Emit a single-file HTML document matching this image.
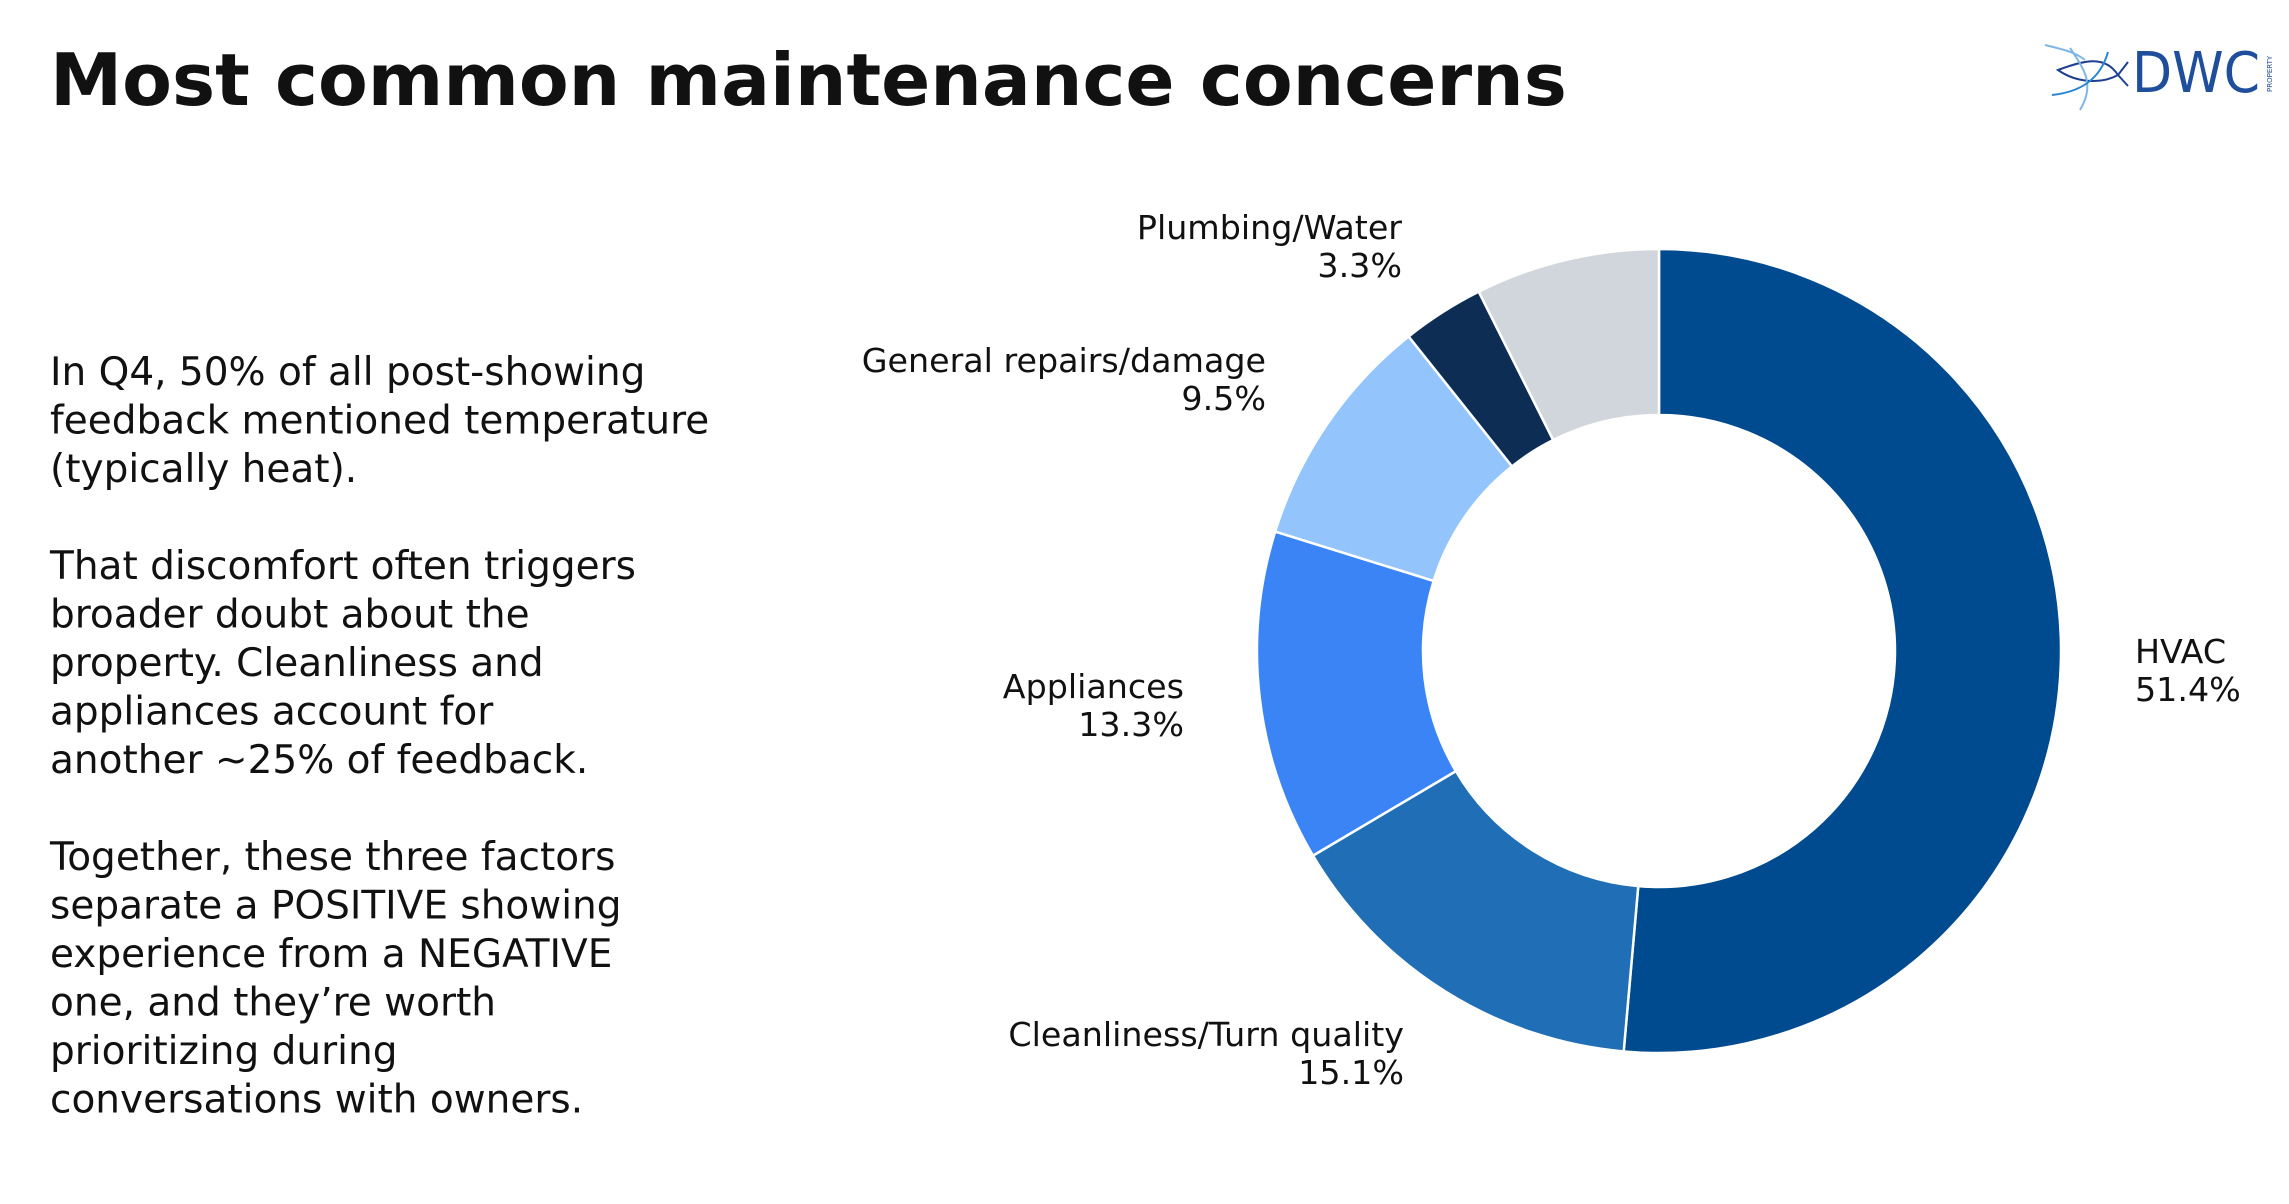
<!DOCTYPE html>
<html><head><meta charset="utf-8"><style>
html,body{margin:0;padding:0;background:#fff;}
svg{display:block;}
text{font-family:"DejaVu Sans","Liberation Sans",sans-serif;fill:#111;}
</style></head><body>
<svg id="s" width="2289" height="1204" viewBox="0 0 2289 1204" xmlns="http://www.w3.org/2000/svg">
<text x="50" y="105" font-size="72.5" font-weight="bold">Most common maintenance concerns</text>
<g font-size="39">
<text x="50" y="385">In Q4, 50% of all post-showing</text>
<text x="50" y="433.5">feedback mentioned temperature</text>
<text x="50" y="482">(typically heat).</text>
<text x="50" y="579">That discomfort often triggers</text>
<text x="50" y="627.5">broader doubt about the</text>
<text x="50" y="676">property. Cleanliness and</text>
<text x="50" y="724.5">appliances account for</text>
<text x="50" y="773">another ~25% of feedback.</text>
<text x="50" y="870">Together, these three factors</text>
<text x="50" y="918.5">separate a POSITIVE showing</text>
<text x="50" y="967">experience from a NEGATIVE</text>
<text x="50" y="1015.5">one, and they’re worth</text>
<text x="50" y="1064">prioritizing during</text>
<text x="50" y="1112.5">conversations with owners.</text>
</g>
<g id="donut"></g>
<g font-size="33.3" text-anchor="end">
<text x="1402" y="239">Plumbing/Water</text><text x="1402" y="277">3.3%</text>
<text x="1266" y="372">General repairs/damage</text><text x="1266" y="410">9.5%</text>
<text x="1184" y="698">Appliances</text><text x="1184" y="736">13.3%</text>
<text x="1404" y="1046">Cleanliness/Turn quality</text><text x="1404" y="1084">15.1%</text>
</g>
<g font-size="33.3"><text x="2135" y="663">HVAC</text><text x="2135" y="701">51.4%</text></g>
<g stroke-width="2" fill="none">
<path d="M2058 70 C2085 60,2105 55,2118 75 C2100 85,2075 82,2058 70Z" stroke="#1f3f8f"/>
<path d="M2070 48 C2085 70,2095 85,2080 110" stroke="#7fb6e6"/>
<path d="M2052 95 C2080 92,2100 80,2108 52" stroke="#2a86d0"/>
<path d="M2118 75 L2128 62 M2118 75 L2128 86" stroke="#1f3f8f"/>
<path d="M2045 45 C2065 50,2075 52,2085 60" stroke="#7fb6e6"/>
</g>
<text x="2132" y="92" font-size="56" style="fill:#1f4e9c" font-family="Liberation Sans" textLength="128" lengthAdjust="spacingAndGlyphs">DWC</text>
<text x="0" y="0" font-size="7" style="fill:#1f4e9c" transform="translate(2272,92) rotate(-90)">PROPERTY</text>
</svg>
<script>
var cx=1659,cy=651,R=402,r=236;
var d=[[51.4,"#004a8f"],[15.1,"#1f6eb6"],[13.3,"#3b84f6"],[9.5,"#93c5fc"],[3.3,"#0d2d54"],[7.4,"#d1d5dc"]];
var a=0,g=document.getElementById("donut"),h="";
function p(rad,ang){return [cx+rad*Math.sin(ang),cy-rad*Math.cos(ang)];}
for(var i=0;i<d.length;i++){var a0=a*Math.PI/180*3.6,a1=(a+d[i][0])*Math.PI/180*3.6;a+=d[i][0];
var L=(a1-a0)>Math.PI?1:0,o0=p(R,a0),o1=p(R,a1),i1=p(r,a1),i0=p(r,a0);
h+='<path d="M'+o0+' A'+R+' '+R+' 0 '+L+' 1 '+o1+' L'+i1+' A'+r+' '+r+' 0 '+L+' 0 '+i0+' Z" fill="'+d[i][1]+'" stroke="#fff" stroke-width="2.5"/>';}
g.innerHTML=h;
</script>
</body></html>
